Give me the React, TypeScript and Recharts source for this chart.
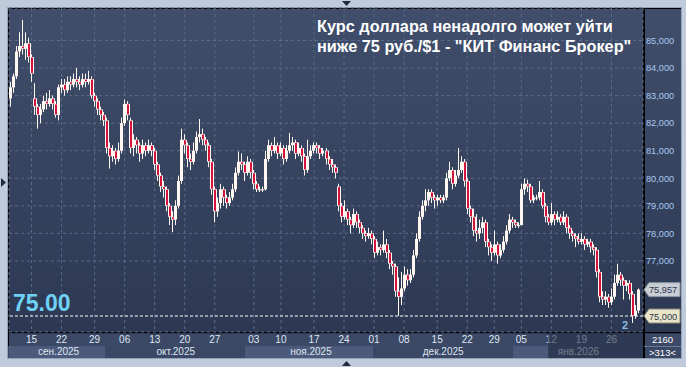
import React from 'react';
import { ComposedChart, Bar, XAxis, YAxis, CartesianGrid, ReferenceLine } from 'recharts';

const opens = [82.9,83.3,83.7,84.6,84.8,84.7,84.9,84.4,82.9,82.6,82.3,82.5,82.8,82.7,82.9,82.7,82.3,83.3,83.4,83.2,83.5,83.4,83.6,83.5,83.4,83.6,83.5,83.6,83.0,82.8,82.5,82.3,82.1,81.1,80.8,81.0,80.7,81.0,82.0,82.7,82.1,81.1,81.4,81.2,80.9,81.2,81.0,81.2,81.0,80.5,80.1,79.7,79.6,79.0,78.6,78.5,79.0,79.9,81.4,81.2,80.7,80.6,81.0,81.5,81.6,81.4,81.2,80.6,79.6,78.8,79.1,79.6,79.3,79.1,79.3,79.6,80.2,80.6,80.5,80.2,80.6,80.2,79.8,79.6,79.6,79.6,80.7,81.2,81.0,81.2,80.9,81.1,80.7,81.0,81.2,81.3,80.9,81.1,80.8,80.3,80.8,81.0,81.2,81.1,80.9,81.0,80.7,80.5,80.4,79.7,79.0,78.6,78.8,78.5,78.3,78.7,78.4,78.2,78.0,77.9,78.0,77.8,77.3,77.5,77.4,77.6,77.3,76.9,76.8,75.9,75.7,76.0,76.5,76.3,76.5,77.2,77.8,78.6,79.0,79.2,79.5,79.3,79.2,79.3,79.2,79.3,80.0,80.3,79.8,80.1,80.3,80.6,79.9,78.9,78.6,78.1,78.0,78.2,78.4,77.7,77.5,77.3,77.6,77.2,77.4,77.7,78.1,78.5,78.4,78.3,78.3,79.6,79.8,79.7,79.2,79.3,79.3,79.5,79.0,78.6,78.4,78.7,78.5,78.6,78.4,78.6,78.2,78.0,77.9,77.8,77.7,77.8,77.6,77.7,77.5,77.4,76.6,75.7,75.6,75.7,75.5,75.7,76.2,76.5,76.3,76.1,76.2,75.8,75.0,75.2];
const closes = [83.3,83.7,84.6,84.8,84.7,84.9,84.4,83.8,82.6,82.3,82.5,82.8,82.7,82.9,82.7,82.3,83.3,83.4,83.2,83.5,83.4,83.6,83.5,83.4,83.6,83.5,83.6,83.0,82.8,82.5,82.3,82.1,81.1,80.8,81.0,80.7,81.0,82.0,82.7,82.3,81.1,81.4,81.2,80.9,81.2,81.0,81.2,81.0,80.5,80.1,79.7,79.6,79.0,78.6,78.5,79.0,79.9,81.4,81.2,80.7,80.6,81.0,81.5,81.6,81.4,81.2,80.6,79.6,78.8,79.1,79.6,79.3,79.1,79.3,79.6,80.2,80.6,80.5,80.2,80.6,80.2,79.8,79.6,79.6,79.6,80.7,81.2,81.0,81.2,80.9,81.1,80.7,81.0,81.2,81.3,80.9,81.1,80.8,80.3,80.8,81.0,81.2,81.1,80.9,81.0,80.7,80.5,80.4,80.2,79.0,78.6,78.8,78.5,78.3,78.7,78.4,78.2,78.0,77.9,78.0,77.8,77.3,77.5,77.4,77.6,77.3,76.9,76.8,75.9,75.7,76.0,76.5,76.3,76.5,77.2,77.8,78.6,79.0,79.2,79.5,79.3,79.2,79.3,79.2,79.3,80.0,80.3,79.8,80.1,80.3,80.6,79.9,78.9,78.6,78.1,78.0,78.2,78.4,77.7,77.5,77.3,77.6,77.2,77.4,77.7,78.1,78.5,78.4,78.3,78.3,79.6,79.8,79.7,79.2,79.3,79.3,79.5,79.0,78.6,78.4,78.7,78.5,78.6,78.4,78.6,78.2,78.0,77.9,77.8,77.7,77.8,77.6,77.7,77.5,77.4,76.6,75.7,75.6,75.7,75.5,75.7,76.2,76.5,76.3,76.1,76.2,75.8,75.0,75.2,75.957];
const highs = [83.5,83.8,84.8,85.3,85.75,85.3,85.1,84.5,83.45,82.7,82.7,83.0,83.1,83.2,83.0,82.8,83.4,83.6,83.6,83.7,83.7,83.8,84.0,83.7,83.8,83.8,83.9,83.7,83.1,82.9,82.6,82.4,82.2,81.3,81.2,81.1,81.3,82.2,82.85,82.8,82.2,81.6,81.5,81.3,81.4,81.3,81.4,81.3,81.1,80.6,80.2,79.9,79.7,79.1,78.8,79.2,80.1,81.8,81.6,81.3,80.9,81.3,81.7,82.15,81.8,81.5,81.3,80.7,79.7,79.3,79.8,79.7,79.4,79.5,79.8,80.4,80.97,80.9,80.6,80.8,80.7,80.3,79.9,79.7,79.7,81.0,81.4,81.3,81.5,81.3,81.3,81.2,81.2,81.65,81.5,81.4,81.3,81.2,80.9,81.4,81.2,81.3,81.3,81.2,81.1,81.1,80.8,80.7,80.5,79.8,79.1,79.2,78.9,78.6,78.9,78.8,78.5,78.3,78.1,78.2,78.1,77.9,77.7,77.6,78.1,77.8,77.4,77.0,76.9,76.4,76.6,76.8,76.7,76.7,77.4,78.0,78.8,79.2,79.6,79.6,79.6,79.4,79.4,79.4,79.4,80.2,80.6,80.4,80.3,81.1,80.8,80.7,80.0,79.0,78.9,78.7,78.5,78.6,78.5,77.8,77.6,78.1,77.7,77.6,77.9,78.3,78.7,78.6,78.5,78.4,79.8,80.0,79.95,79.8,79.4,79.4,79.9,79.6,79.1,78.7,79.1,78.8,78.8,78.7,78.8,78.7,78.3,78.1,78.0,78.0,78.0,77.9,77.8,77.8,77.6,77.5,76.7,75.9,75.9,75.8,76.0,76.5,76.9,76.6,76.4,76.3,76.3,75.9,75.4,76.0];
const lows = [82.6,83.1,83.6,84.4,84.5,84.3,84.2,83.5,82.3,81.8,82.0,82.4,82.5,82.6,82.5,82.2,82.1,83.1,83.0,83.1,83.2,83.3,83.3,83.2,83.3,83.3,83.4,82.9,82.6,82.3,82.1,81.9,80.9,80.35,80.6,80.5,80.6,80.9,81.9,82.1,80.9,80.8,80.9,80.6,80.7,80.8,80.9,80.8,80.3,79.9,79.5,79.3,78.8,78.3,78.05,78.3,78.9,79.8,80.9,80.4,80.3,80.5,80.9,81.3,81.2,81.0,80.4,79.4,78.4,78.6,78.9,79.0,78.9,79.0,79.2,79.5,80.1,80.3,79.9,80.1,80.0,79.6,79.5,79.5,79.5,79.55,80.6,80.8,80.9,80.7,80.8,80.5,80.6,80.9,81.0,80.7,80.8,80.6,80.1,80.2,80.7,80.9,80.9,80.7,80.8,80.5,80.3,80.2,80.0,78.8,78.4,78.5,78.3,78.0,78.2,78.2,78.0,77.8,77.7,77.8,77.6,77.1,77.2,77.2,77.3,77.1,76.7,76.5,75.7,75.0,75.4,75.9,76.1,76.2,76.4,77.1,77.7,78.5,78.8,79.0,79.1,78.9,79.0,79.1,79.1,79.2,79.9,79.6,79.7,80.0,80.2,79.7,78.7,78.4,77.9,77.7,77.8,78.0,77.5,77.2,77.0,77.2,76.9,77.1,77.3,77.6,78.0,78.2,78.2,78.2,78.3,79.4,79.5,79.1,79.1,79.2,79.2,78.9,78.4,78.3,78.3,78.3,78.4,78.3,78.3,78.0,77.8,77.7,77.5,77.6,77.6,77.4,77.5,77.3,77.2,76.4,75.5,75.4,75.4,75.3,75.4,75.6,76.1,76.1,75.6,75.9,75.6,74.75,74.9,75.1];

const dayTickIdx = [7,17,28,38,48,58,68,81,90,101,111,121,131,142,152,161,170,180,190,200];
const dayLabels = ['15','22','29','06','13','20','27','03','10','17','24','01','08','15','22','29','05','12','19','26'];
const monthTickIdx = [16,55,100,144,189];
const monthLabels = ['сен.2025','окт.2025','ноя.2025','дек.2025','янв.2026'];
const priceTicks = [77,78,79,80,81,82,83,84,85];
const levelPrice = 75;
const lastPrice = 75.957;
const titleLines = ['Курс доллара ненадолго может уйти', 'ниже 75 руб./$1 - "КИТ Финанс Брокер"'];

const data = closes.map((c, i) => ({ i, open: opens[i], close: c, high: highs[i], low: lows[i], range: [lows[i], highs[i]] }));

const FONT = '"Liberation Sans", Arial, sans-serif';
const WHITE = '#fff7f0';
const RED = '#d4133f';

const Candle = (props: any) => {
  const { x, y, width, height, payload } = props;
  if (!payload) return null;
  const top = Math.min(y, y + height);
  const h = Math.abs(height);
  const { open, close, high, low } = payload;
  const k = high > low ? h / (high - low) : 0;
  const yOf = (v: number) => top + (high - v) * k;
  const cx = Math.round(x + width / 2 - 0.5);
  const bTop = yOf(Math.max(open, close));
  const bBot = yOf(Math.min(open, close));
  const bh = Math.max(1, bBot - bTop);
  const up = close >= open;
  return (
    <g>
      <rect x={cx} y={top} width={1} height={Math.max(1, h)} fill={WHITE} />
      {up ? (
        <rect x={cx - 1} y={bTop} width={3} height={bh} fill={WHITE} />
      ) : (
        <g>
          <rect x={cx - 1} y={bTop} width={4} height={bh} fill={WHITE} />
          <rect x={cx} y={bTop + 0.5} width={2} height={Math.max(0.5, bh - 1)} fill={RED} />
        </g>
      )}
    </g>
  );
};

const LevelLabel = (props: any) => {
  const vb = props.viewBox || {};
  const x = vb.x, y = vb.y, w = vb.width;
  return (
    <g>
      <text x={x + 4} y={y - 5} fill="#6fd2f7" fontSize={23} fontWeight="bold" fontFamily={FONT}>75.00</text>
      <path d={`M${x + w + 1},${y} L${x + w + 6},${y - 7} L${x + w + 37},${y - 7} L${x + w + 37},${y + 7} L${x + w + 6},${y + 7} Z`} fill="#e9e5c8" stroke="#8c8a78" strokeWidth={1} />
      <text x={x + w + 6} y={y + 3.5} fill="#2c3650" fontSize={9.2} fontFamily={FONT}>{levelPrice.toFixed(3).replace('.', ',')}</text>
    </g>
  );
};

const LastLabel = (props: any) => {
  const vb = props.viewBox || {};
  const x = vb.x, y = vb.y, w = vb.width;
  return (
    <g>
      <path d={`M${x + w + 1},${y} L${x + w + 6},${y - 7} L${x + w + 37},${y - 7} L${x + w + 37},${y + 7} L${x + w + 6},${y + 7} Z`} fill="#c9cdd4" stroke="#8b93a3" strokeWidth={1} />
      <text x={x + w + 6} y={y + 3.5} fill="#2c3650" fontSize={9.2} fontFamily={FONT}>{lastPrice.toFixed(3).replace('.', ',')}</text>
    </g>
  );
};

export default function App() {
  return (
    <div style={{ position: 'absolute', left: 0, top: 0, width: 686, height: 367, background: '#bfcbdb', fontFamily: FONT, overflow: 'hidden' }}>
      <div style={{ position: 'absolute', left: 7, top: 7, width: 675, height: 352, background: '#93a3ba' }} />
      <div style={{ position: 'absolute', left: 8, top: 8, width: 673, height: 350, background: 'linear-gradient(#404e6b, #2d3953 93%, #3b4866 93%, #3b4866)', borderTop: '1px solid #000', borderLeft: '1px solid #000', boxSizing: 'border-box' }} />
      <div style={{ position: 'absolute', left: 8, top: 346, width: 673, height: 12, background: '#3a4765' }} />
      <div style={{ position: 'absolute', left: 9, top: 346, width: 96, height: 12, background: '#4b5a7a' }} />
      <div style={{ position: 'absolute', left: 245, top: 346, width: 128, height: 12, background: '#4b5a7a' }} />
      <div style={{ position: 'absolute', left: 513, top: 346, width: 36, height: 12, background: '#4b5a7a' }} />
      <div style={{ position: 'absolute', left: 643, top: 8, width: 1.5, height: 350, background: '#000' }} />
      <div style={{ position: 'absolute', left: 8, top: 331.5, width: 673, height: 1.5, background: '#000' }} />
      <div style={{ position: 'absolute', left: 644, top: 346, width: 37, height: 1, background: '#6b7a96' }} />

      <div style={{ position: 'absolute', left: 0, top: 0 }}>
        <ComposedChart width={686} height={367} data={data} margin={{ top: 8, right: 6, bottom: 9, left: 9 }} barCategoryGap={0}>
          <CartesianGrid stroke="#5a6a8a" strokeDasharray="3 3" strokeWidth={1} />
          <XAxis dataKey="i" type="category" ticks={dayTickIdx} interval={0} tickFormatter={(v: any) => dayLabels[dayTickIdx.indexOf(v)] ?? ''} axisLine={false} tickLine={false} tickSize={2} tickMargin={2} height={14} tick={{ fill: '#dfe6f1', fontSize: 10, fontFamily: FONT }} padding={{ left: 0, right: 3 }} />
          <XAxis xAxisId="m" dataKey="i" type="category" ticks={monthTickIdx} interval={0} tickFormatter={(v: any) => monthLabels[monthTickIdx.indexOf(v)] ?? ''} axisLine={false} tickLine={false} tickSize={1} tickMargin={1} height={12} tick={{ fill: '#dfe6f1', fontSize: 10, fontFamily: FONT }} padding={{ left: 0, right: 3 }} />
          <YAxis orientation="right" width={37} domain={[74.42, 86.18]} type="number" ticks={priceTicks} tickFormatter={(v: number) => v.toFixed(3).replace('.', ',')} axisLine={false} tickLine={false} tickSize={3} tickMargin={0} tick={{ fill: '#a9c8ef', fontSize: 9.2, fontFamily: FONT, textAnchor: 'start' }} allowDataOverflow />
          <Bar dataKey="range" shape={Candle} isAnimationActive={false} />
          <ReferenceLine y={levelPrice} stroke="#ffffff" strokeDasharray="3 2" strokeWidth={1} label={LevelLabel} ifOverflow="visible" />
          <ReferenceLine y={lastPrice} stroke="none" label={LastLabel} ifOverflow="visible" />
        </ComposedChart>
      </div>

      <div style={{ position: 'absolute', left: 548, top: 333, width: 95, height: 25, background: 'rgba(38,48,72,0.6)' }} />
      <div style={{ position: 'absolute', left: 644, top: 334, width: 37, textAlign: 'center', color: '#ffffff', fontSize: 9.5, lineHeight: '12px' }}>2160</div>
      <div style={{ position: 'absolute', left: 644, top: 347, width: 37, textAlign: 'center', color: '#ffffff', fontSize: 9.5, lineHeight: '12px' }}>&gt;313&lt;</div>
      <div style={{ position: 'absolute', left: 622, top: 319, color: '#8fbbe8', fontSize: 11, lineHeight: '12px', fontWeight: 'bold' }}>2</div>

      <div style={{ position: 'absolute', left: 317, top: 16, color: '#ffffff', fontSize: 16.3, fontWeight: 'bold', lineHeight: '20px', whiteSpace: 'nowrap' }}>
        <div>{titleLines[0]}</div>
        <div>{titleLines[1]}</div>
      </div>

      <svg width={686} height={367} style={{ position: 'absolute', left: 0, top: 0, pointerEvents: 'none' }}>
        <path d="M342,1 L351,1 L346.5,6 Z" fill="#1f2a40" />
        <path d="M1,178 L6,182.5 L1,187 Z" fill="#1f2a40" />
        <path d="M342,366 L351,366 L346.5,361 Z" fill="#1f2a40" />
      </svg>
    </div>
  );
}
